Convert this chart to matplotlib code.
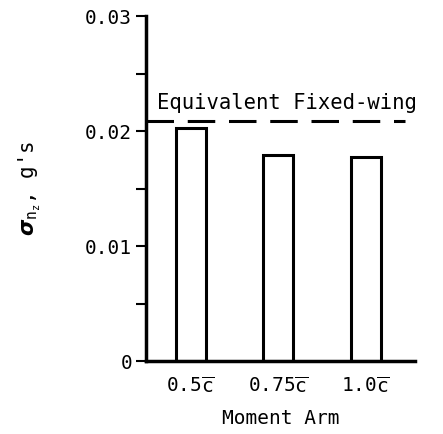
import numpy as np
import matplotlib
matplotlib.use('Agg')
import matplotlib.pyplot as plt

plt.rcParams['font.family'] = 'DejaVu Sans Mono'
plt.rcParams['mathtext.fontset'] = 'custom'
plt.rcParams['mathtext.rm'] = 'DejaVu Sans Mono'
plt.rcParams['mathtext.it'] = 'DejaVu Sans Mono'
plt.rcParams['mathtext.bf'] = 'DejaVu Sans Mono:bold'

arms = ['0.5$\\overline{\\mathrm{c}}$', '0.75$\\overline{\\mathrm{c}}$', '1.0$\\overline{\\mathrm{c}}$']
sigma_nz = [0.0203, 0.0179, 0.0177]
fixed_wing = 0.0209
yticks = [0, 0.01, 0.02, 0.03]
ytick_labels = ['0', '0.01', '0.02', '0.03']

fig = plt.figure(figsize=(4.43, 4.34), dpi=100)
ax = fig.add_axes([0.3296, 0.1682, 0.6072, 0.7949])

x = np.arange(1, len(arms) + 1)
ax.bar(x, sigma_nz, width=0.34, facecolor='white', edgecolor='black', linewidth=2.2)
ax.axhline(fixed_wing, color='black', linestyle=(0, (9, 4.5)), linewidth=2.2, xmax=0.963)
ax.text(0.615, fixed_wing + 0.0007, 'Equivalent Fixed-wing', fontsize=14.8,
        ha='left', va='bottom')

ax.set_xlim(0.49, 3.56)
ax.set_ylim(0, 0.03)
ax.set_xticks(x)
ax.set_xticklabels(arms, fontsize=14)
ax.set_yticks(yticks)
ax.set_yticklabels(ytick_labels, fontsize=14)
ax.set_yticks([0.005, 0.015, 0.025], minor=True)
ax.tick_params(axis='x', length=0, pad=11)
ax.tick_params(axis='y', which='both', direction='out', length=7, width=1.5, pad=3)

for s in ['top', 'right']:
    ax.spines[s].set_visible(False)
for s in ['left', 'bottom']:
    ax.spines[s].set_linewidth(2.5)

ax.set_xlabel('Moment Arm', fontsize=14, labelpad=9)
ax.set_ylabel("$\\boldsymbol{\\sigma}_{n_z}$, g's", fontsize=15, labelpad=30)

fig.savefig('out.png', dpi=100)
